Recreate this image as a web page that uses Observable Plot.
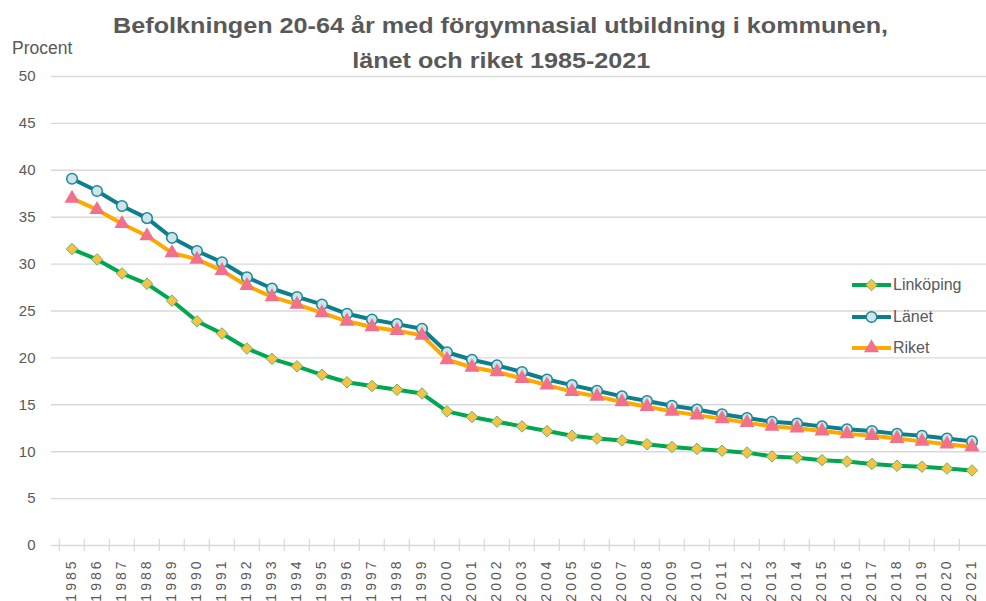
<!DOCTYPE html>
<html><head><meta charset="utf-8">
<script src="https://cdn.jsdelivr.net/npm/d3@7"></script>
<script src="https://cdn.jsdelivr.net/npm/@observablehq/plot@0.6"></script>
<style>
body{margin:0;background:#fff;font-family:"Liberation Sans",Arial,sans-serif;}
#wrap{position:relative;width:986px;height:601px;overflow:hidden;background:#fff;}
#title{position:absolute;top:8px;left:0;width:1002px;text-align:center;font-weight:bold;font-size:22px;line-height:35px;color:#595959;}
#title span{display:inline-block;transform-origin:center;}
#procent{position:absolute;left:12px;top:38px;font-size:17.5px;line-height:20px;color:#595959;}
#chart{position:absolute;left:0;top:0;}
.leg{position:absolute;left:852px;height:20px;display:flex;align-items:center;font-size:16px;color:#595959;}
.leg svg{display:block;margin-right:2px;}
g[aria-label="x-axis tick label"] text{letter-spacing:3px;}
</style>
</head><body>
<div id="wrap">
  <div id="chart"></div>
  <div id="title"><span id="t1">Befolkningen 20-64 år med förgymnasial utbildning i kommunen,</span><br><span id="t2">länet och riket 1985-2021</span></div>
  <div id="procent">Procent</div>
  <div id="legend"></div>
</div>
<script>
const years = ["1985","1986","1987","1988","1989","1990","1991","1992","1993","1994","1995","1996","1997","1998","1999","2000","2001","2002","2003","2004","2005","2006","2007","2008","2009","2010","2011","2012","2013","2014","2015","2016","2017","2018","2019","2020","2021"];
const yTicks = [0,5,10,15,20,25,30,35,40,45,50];
const linkoping = [31.6,30.5,29.0,27.9,26.1,23.9,22.6,21.0,19.9,19.1,18.2,17.4,17.0,16.6,16.2,14.3,13.7,13.2,12.7,12.2,11.7,11.4,11.2,10.8,10.5,10.3,10.1,9.9,9.5,9.35,9.1,8.95,8.7,8.5,8.4,8.2,8.0];
const lanet = [39.1,37.8,36.2,34.9,32.8,31.4,30.2,28.6,27.4,26.5,25.7,24.7,24.1,23.6,23.1,20.6,19.8,19.2,18.5,17.7,17.1,16.5,15.9,15.4,14.9,14.5,14.0,13.6,13.2,13.0,12.7,12.4,12.2,11.9,11.7,11.4,11.1];
const riket = [37.0,35.8,34.3,33.0,31.2,30.5,29.3,27.7,26.5,25.7,24.8,23.9,23.3,22.9,22.4,19.8,19.0,18.5,17.8,17.1,16.4,15.9,15.3,14.8,14.3,13.9,13.5,13.1,12.7,12.5,12.2,11.9,11.7,11.4,11.1,10.8,10.5];
const seriesNames = ["Linköping","Länet","Riket"];

const styles = {
  "Linköping": {line:"#00a650", symbol:"diamond2", fill:"#f7c046", stroke:"#5dbb63", r:5.2, sw:1},
  "Länet": {line:"#0f7e8c", symbol:"circle", fill:"#cfe3e9", stroke:"#1a8a97", r:5.3, sw:1.5},
  "Riket": {line:"#ffa800", symbol:"triangle", fill:"#f2708b", stroke:"none", r:5.6, sw:0}
};
const toRows = (vals) => years.map((y,i)=>({year:y, value:vals[i]}));
const rows = {"Linköping":toRows(linkoping),"Länet":toRows(lanet),"Riket":toRows(riket)};

const W = 986, H = 601, mL = 51, mR = -5;
const half = (W - mL - mR) / years.length / 2;

const marks = [
  Plot.gridY(yTicks, {stroke:"#d9d9d9", strokeOpacity:1, strokeWidth:1.4}),
  Plot.axisY(yTicks, {tickSize:0, tickPadding:16, fontSize:15, fill:"#595959", label:null}),
  Plot.axisX(years, {tickSize:0, tickPadding:13, tickRotate:-90, fontSize:14, fill:"#595959", label:null}),
  Plot.ruleX(years, {x:d=>d, dx:-half, y1:0, y2:0, insetTop:-6, insetBottom:-6, stroke:"#d9d9d9", strokeWidth:1.2})
];
for (const name of seriesNames) {
  const s = styles[name];
  marks.push(Plot.line(rows[name], {x:"year", y:"value", stroke:s.line, strokeWidth:4, strokeLinejoin:"round"}));
  marks.push(Plot.dot(rows[name], {x:"year", y:"value", symbol:s.symbol, r:s.r, fill:s.fill, stroke:s.stroke, strokeWidth:s.sw}));
}

const chart = Plot.plot({
  width: W, height: H,
  marginTop: 76, marginBottom: 56, marginLeft: mL, marginRight: mR,
  style: {fontFamily:'"Liberation Sans",Arial,sans-serif', background:"transparent", color:"#595959", overflow:"visible"},
  x: {type:"band", domain: years, padding:0, label:null},
  y: {domain:[0,50], label:null},
  marks
});
document.getElementById("chart").appendChild(chart);

// legend
const legend = document.getElementById("legend");
const legRows = [285, 317, 348];
seriesNames.forEach((name,i)=>{
  const s = styles[name];
  const div = document.createElement("div");
  div.className = "leg";
  div.style.top = (legRows[i]-10) + "px";
  const svg = d3.create("svg").attr("width",39).attr("height",20);
  svg.append("line").attr("x1",1).attr("x2",38).attr("y1",10).attr("y2",10).attr("stroke",s.line).attr("stroke-width",4).attr("stroke-linecap","round");
  const sym = {circle:d3.symbolCircle, diamond2:d3.symbolDiamond2, triangle:d3.symbolTriangle}[s.symbol];
  svg.append("path").attr("transform","translate(19.5,10)").attr("d", d3.symbol(sym, Math.PI*s.r*s.r)())
     .attr("fill",s.fill).attr("stroke",s.stroke).attr("stroke-width",s.sw);
  div.appendChild(svg.node());
  const sp = document.createElement("span"); sp.textContent = name; div.appendChild(sp);
  legend.appendChild(div);
});

// title width fit
const t1 = document.getElementById("t1"), t2 = document.getElementById("t2");
const k = 775 / t1.getBoundingClientRect().width;
t1.style.transform = `scaleX(${k})`;
t2.style.transform = `scaleX(${k})`;
</script>
</body></html>
